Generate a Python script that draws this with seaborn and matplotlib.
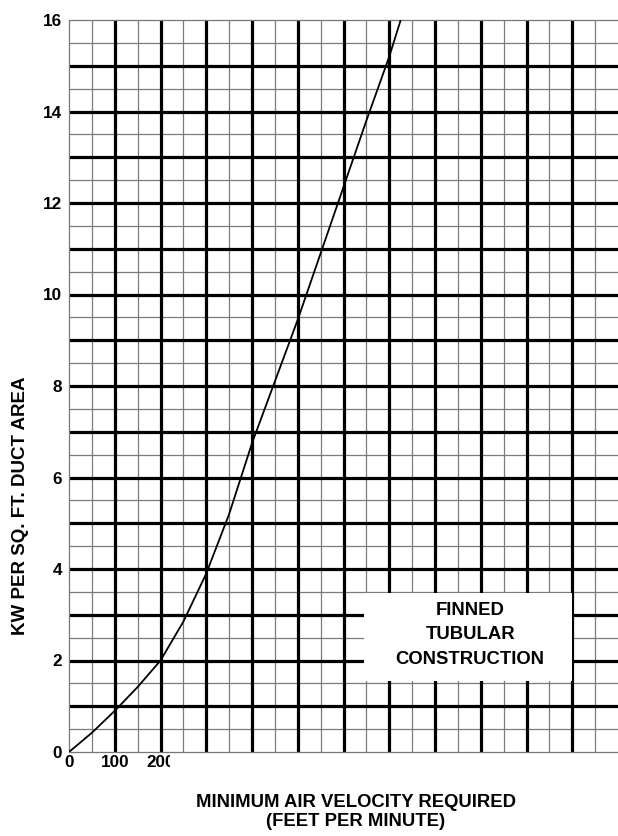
import numpy as np
import pandas as pd
import seaborn as sns
import matplotlib.pyplot as plt
from matplotlib.patches import Rectangle
from matplotlib.transforms import Bbox

# curve: air velocity (ft/min) vs kW per sq. ft.
velocity = [0, 50, 100, 150, 200, 250, 300, 350, 400, 450, 500, 550, 600, 650, 700, 725]
kw_per_sqft = [0, 0.42, 0.9, 1.42, 2.0, 2.85, 3.9, 5.2, 6.75, 8.1, 9.45, 10.9, 12.35, 13.8, 15.2, 16.0]

x_tick_values = [0, 100, 200]
x_tick_labels = ["0", "100", "200"]
y_tick_values = [0, 2, 4, 6, 8, 10, 12, 14, 16]

note_text = "FINNED\nTUBULAR\nCONSTRUCTION"
x_title = "MINIMUM AIR VELOCITY REQUIRED\n(FEET PER MINUTE)"
y_title = "KW PER SQ. FT. DUCT AREA"

df = pd.DataFrame({"velocity": velocity, "kw": kw_per_sqft})

sns.set_style("white")
plt.rcParams['font.family'] = ['Liberation Sans', 'DejaVu Sans']
plt.rcParams['text.color'] = 'black'
plt.rcParams['xtick.color'] = 'black'
plt.rcParams['ytick.color'] = 'black'

fig = plt.figure(figsize=(6.18, 8.36), dpi=100)
ax = fig.add_axes([69 / 618, 84 / 836, 549 / 618, 732 / 836])

xmax, ymax = 1200, 16
ax.set_xlim(0, xmax)
ax.set_ylim(0, ymax)

# graph-paper grid: thin minor lines every half unit, heavy lines every unit
minor_x = np.arange(50, xmax, 100)
minor_y = np.arange(0.5, ymax, 1.0)
major_x = np.arange(100, xmax, 100)
major_y = np.arange(1, ymax, 1)
ax.vlines(minor_x, 0, ymax, color="#7a7a7a", lw=0.9, zorder=1)
ax.hlines(minor_y, 0, xmax, color="#7a7a7a", lw=0.9, zorder=1)
ax.vlines(major_x, 0, ymax, color="black", lw=2.3, zorder=2)
ax.hlines(major_y, 0, xmax, color="black", lw=2.3, zorder=2)

# blank label area in the lower right
ax.add_patch(Rectangle((645, 1.55), 455, 1.92, facecolor="white", edgecolor="none", zorder=3))
ax.text(877, 2.56, note_text, ha="center", va="center", fontsize=13.3,
        fontweight="bold", linespacing=1.6, color="black", zorder=4)

sns.lineplot(data=df, x="velocity", y="kw", color="black", lw=1.3, ax=ax, zorder=5)

ax.set_xticks(x_tick_values)
ax.set_xticklabels(x_tick_labels)
ax.set_yticks(y_tick_values)
ax.tick_params(length=0, labelsize=12.3, labelcolor="black")
ax.tick_params(axis="y", pad=5)
ax.tick_params(axis="x", pad=2)
for lbl in ax.get_xticklabels() + ax.get_yticklabels():
    lbl.set_fontweight("bold")

for side in ["left", "top", "bottom"]:
    ax.spines[side].set_color("#777777")
    ax.spines[side].set_linewidth(0.9)
ax.spines["right"].set_visible(False)

ax.set_xlabel("")
ax.set_ylabel("")
fig.text(356 / 618, 1 - 812 / 836, x_title, ha="center", va="center",
         fontsize=13.3, fontweight="bold", linespacing=1.15, color="black")
fig.text(21 / 618, 1 - 506 / 836, y_title, ha="center", va="center",
         rotation=90, fontsize=13.5, fontweight="bold", color="black")

# the scan cuts the "200" label off at its right edge
fig.canvas.draw()
last = ax.get_xticklabels()[-1]
last.set_clip_box(Bbox.from_extents(0, 0, 170, 836))

fig.savefig("out.png", dpi=100)
